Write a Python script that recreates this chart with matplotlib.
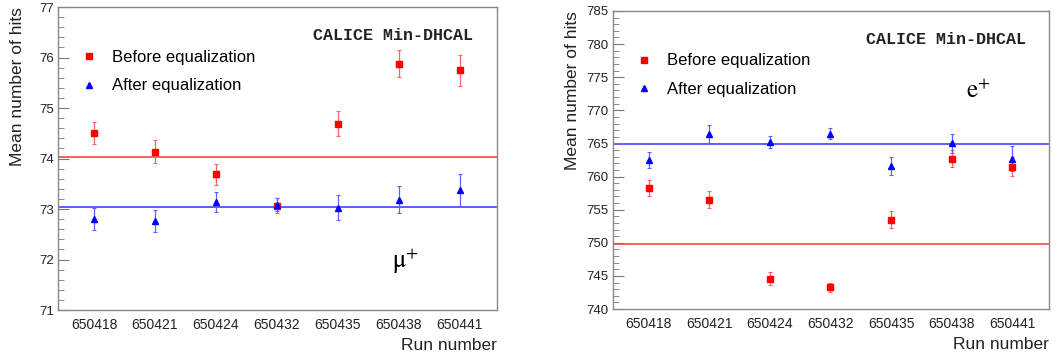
import matplotlib
matplotlib.use("Agg")
import matplotlib.pyplot as plt
from matplotlib.ticker import MultipleLocator
from matplotlib.lines import Line2D

plt.rcParams['font.family'] = ['Liberation Sans', 'DejaVu Sans']
plt.rcParams['mathtext.fontset'] = 'stix'

runs = ['650418', '650421', '650424', '650432', '650435', '650438', '650441']

# muon runs
mu_before = [74.51, 74.14, 73.69, 73.07, 74.69, 75.88, 75.75]
mu_before_err = [0.22, 0.23, 0.21, 0.15, 0.25, 0.27, 0.31]
mu_after = [72.80, 72.77, 73.14, 73.09, 73.03, 73.19, 73.38]
mu_after_err = [0.22, 0.22, 0.20, 0.12, 0.25, 0.27, 0.32]
mu_mean_before = 74.03
mu_mean_after = 73.05

# positron runs
e_before = [758.3, 756.5, 744.6, 743.3, 753.5, 762.7, 761.5]
e_before_err = [1.2, 1.25, 1.0, 0.7, 1.3, 1.3, 1.45]
e_after = [762.5, 766.4, 765.2, 766.5, 761.6, 765.0, 762.7]
e_after_err = [1.25, 1.4, 0.9, 0.8, 1.4, 1.4, 1.9]
e_mean_before = 749.8
e_mean_after = 764.95

fig = plt.figure(figsize=(10.57, 3.54), dpi=100)
ax1 = fig.add_axes([0.0549, 0.124, 0.4153, 0.856])
ax2 = fig.add_axes([0.580, 0.127, 0.4125, 0.842])


def panel(ax, before, berr, after, aerr, mb, ma, ylim, major, minor, label, label_xy, leg_y):
    x = list(range(len(runs)))
    ax.axhline(mb, color='#ff4040', lw=1.4, alpha=0.85, zorder=1)
    ax.axhline(ma, color='#4040ff', lw=1.4, alpha=0.85, zorder=1)
    ax.errorbar(x, before, yerr=berr, fmt='s', color='#ff0000', ms=5, mec='#ff0000',
                ecolor='#ff6060', elinewidth=0.9, capsize=1.5, capthick=0.8, zorder=3)
    ax.errorbar(x, after, yerr=aerr, fmt='^', color='#0000ff', ms=5, mec='#0000ff',
                ecolor='#6060ff', elinewidth=0.9, capsize=1.5, capthick=0.8, zorder=3)
    ax.set_xlim(-0.59, 6.61)
    ax.set_ylim(*ylim)
    ax.set_xticks(x)
    ax.set_xticklabels(runs, fontsize=10, color='#222222')
    ax.tick_params(axis='x', length=0, pad=6)
    ax.yaxis.set_major_locator(MultipleLocator(major))
    ax.yaxis.set_minor_locator(MultipleLocator(minor))
    ax.tick_params(axis='y', which='major', direction='in', length=8, labelsize=9.5,
                   color='#777777', labelcolor='#222222', pad=3)
    ax.tick_params(axis='y', which='minor', direction='in', length=4, color='#777777')
    for s in ax.spines.values():
        s.set_color('#888888')
        s.set_linewidth(1.0)
    ax.set_ylabel('Mean number of hits', loc='top', fontsize=12.5, color='#222222')
    ax.yaxis.set_label_coords(-0.076, 1.0)
    ax.set_xlabel('Run number', loc='right', fontsize=12.5, color='#222222', labelpad=4)
    ax.text(0.946, 0.905, 'CALICE Min-DHCAL', transform=ax.transAxes, ha='right', va='center',
            fontsize=12, fontweight='bold', family='Liberation Mono', color='#222222')
    ax.text(label_xy[0], label_xy[1], label, transform=ax.transAxes, ha='left', va='center',
            fontsize=18, color='black')
    handles = [Line2D([], [], ls='none', marker='s', ms=5, color='#ff0000'),
               Line2D([], [], ls='none', marker='^', ms=5, color='#0000ff')]
    ax.legend(handles, ['Before equalization', 'After equalization'],
              loc='upper left', bbox_to_anchor=(0.025, leg_y), frameon=False, fontsize=12,
              handletextpad=0.6, handlelength=1.6, labelspacing=0.8, borderaxespad=0)


panel(ax1, mu_before, mu_before_err, mu_after, mu_after_err, mu_mean_before, mu_mean_after,
      (71, 77), 1, 0.2, r'$\mathrm{\mu}^{+}$', (0.76, 0.16), 0.88)
panel(ax2, e_before, e_before_err, e_after, e_after_err, e_mean_before, e_mean_after,
      (740, 785), 5, 1, r'$\mathrm{e}^{+}$', (0.81, 0.73), 0.88)

fig.savefig('out.png', dpi=100)
